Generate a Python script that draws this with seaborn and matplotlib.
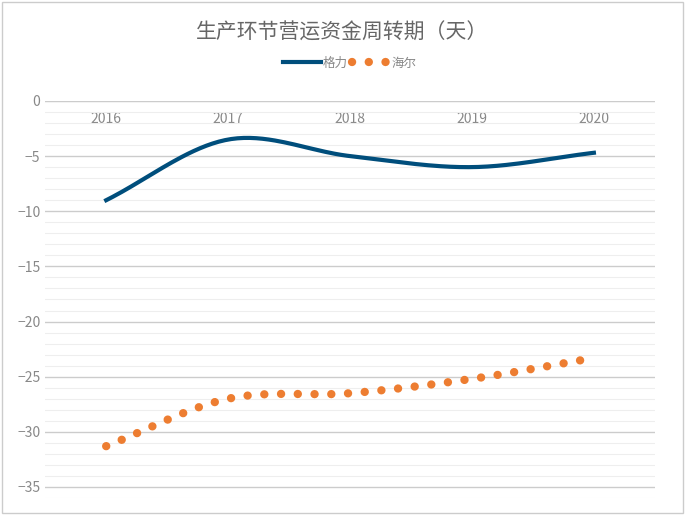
import numpy as np
import matplotlib
matplotlib.use("Agg")
import matplotlib.pyplot as plt
import seaborn as sns
import pandas as pd

years = [2016, 2017, 2018, 2019, 2020]
gree = [-9.0, -3.5, -5.0, -6.0, -4.7]
haier = [-31.3, -27.0, -26.5, -25.2, -23.3]

def smooth(x, y, n=40):
    x = np.asarray(x, float); y = np.asarray(y, float)
    px = np.concatenate([[2*x[0]-x[1]], x, [2*x[-1]-x[-2]]])
    py = np.concatenate([[2*y[0]-y[1]], y, [2*y[-1]-y[-2]]])
    xs, ys = [], []
    for i in range(1, len(px)-2):
        t = np.linspace(0, 1, n)
        for P, out in ((px, xs), (py, ys)):
            p0, p1, p2, p3 = P[i-1], P[i], P[i+1], P[i+2]
            out.extend(0.5*((2*p1) + (-p0+p2)*t + (2*p0-5*p1+4*p2-p3)*t**2 + (-p0+3*p1-3*p2+p3)*t**3))
    return np.array(xs), np.array(ys)

plt.rcParams["font.family"] = ["Noto Sans CJK SC", "DejaVu Sans"]
fig = plt.figure(figsize=(6.85, 5.15), dpi=100)
ax = fig.add_axes([0.066, 0.033, 0.89, 0.771])
sx, sy = smooth(years, gree)
sns.lineplot(x=sx, y=sy, ax=ax, color="#004e7c", lw=3, label="格力", sort=False)
hx, hy = smooth(years, haier)
sns.lineplot(x=hx, y=hy, ax=ax, color="#ed7d31", lw=6, ls=(0, (0.01, 2.0)), label="海尔", sort=False)
for l in ax.lines[1:]:
    l.set_dash_capstyle("round")
ax.set_xlim(2015.5, 2020.5)
ax.set_ylim(-36, 0)
ax.set_yticks(range(-35, 1, 5))
ax.set_yticks(range(-36, 0, 1), minor=True)
ax.tick_params(axis="y", length=0, labelsize=10, colors="#888888")
ax.tick_params(axis="y", which="minor", length=0)
ax.set_xticks(years)
ax.tick_params(axis="x", top=False, bottom=False, labelbottom=False, labeltop=True, length=0, pad=-18, labelsize=10, colors="#888888")
ax.grid(axis="y", which="major", color="#cccccc", lw=1)
ax.grid(axis="y", which="minor", color="#eeeeee", lw=0.8)
ax.grid(axis="x", visible=False)
for s in ax.spines.values():
    s.set_visible(False)
ax.axhline(0, color="#cccccc", lw=1.5)
ax.set_xlabel(""); ax.set_ylabel("")
ax.legend(loc="upper center", bbox_to_anchor=(0.5, 1.14), ncol=2, frameon=False, fontsize=9,
          labelcolor="#888888", handlelength=3, columnspacing=0.3, handletextpad=0.2)
fig.text(0.5, 0.925, "生产环节营运资金周转期（天）", ha="center", fontsize=15, color="#666666")
fig.patches.append(plt.Rectangle((0.003, 0.003), 0.994, 0.994, transform=fig.transFigure, fill=False, ec="#cccccc", lw=1))
fig.savefig("out.png", dpi=100)
